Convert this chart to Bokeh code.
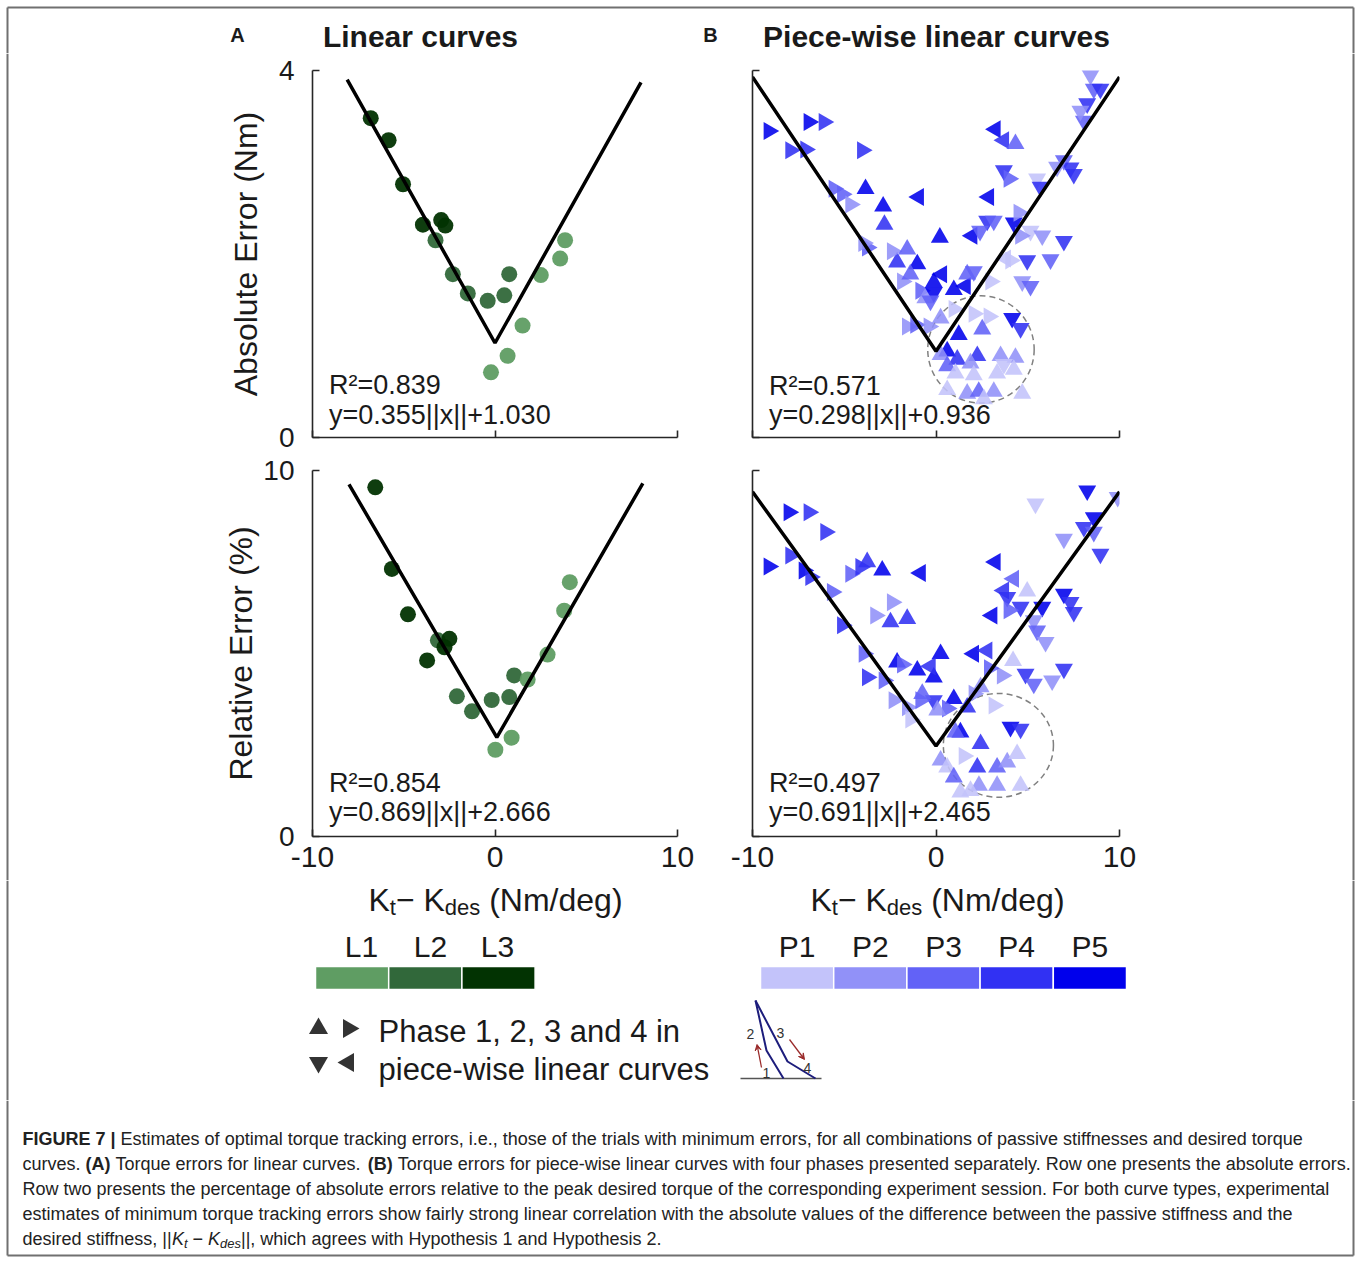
import math
from bokeh.plotting import figure
from bokeh.models import Range1d, FixedTicker, ColumnDataSource, Arrow, VeeHead
from bokeh.layouts import column, row
from bokeh.embed import file_html
from bokeh.resources import INLINE
from bokeh.core.properties import value

FONT = "Liberation Sans"
INK = "#1a1a1a"
FRAME = "#707070"

# ---------------- data ----------------
x_ticks = [-10, 0, 10]
x_tick_labels = ["-10", "0", "10"]
abs_ticks = [0, 4]
abs_tick_labels = ["0", "4"]
rel_ticks = [0, 10]
rel_tick_labels = ["0", "10"]

l_labels = ["L1", "L2", "L3"]
l_colors = ["#5f9d63", "#31683a", "#023302"]
p_labels = ["P1", "P2", "P3", "P4", "P5"]
p_colors = ["#c3c3fa", "#9191f8", "#6262f7", "#3131f3", "#0000ec"]

# Panel A, absolute error (Nm)
a_abs_x = [-6.81, -5.83, -5.04, -3.95, -2.95, -2.72, -3.26, -2.31, -1.49, -0.40, 0.51, 0.78, 1.51, 0.69, -0.22, 2.51, 3.57, 3.84]
a_abs_y = [3.48, 3.24, 2.76, 2.32, 2.37, 2.31, 2.15, 1.78, 1.57, 1.49, 1.55, 1.78, 1.22, 0.89, 0.71, 1.77, 1.95, 2.15]
a_abs_level = [3, 3, 3, 3, 3, 3, 2, 2, 2, 2, 2, 2, 1, 1, 1, 1, 1, 1]
a_abs_fit_x = [-8.1, 0.0, 8.0]
a_abs_fit_y = [3.90, 1.03, 3.87]
a_abs_stats = ["R\u00b2=0.839", "y=0.355||x||+1.030"]

# Panel A, relative error (%)
a_rel_x = [-6.56, -5.65, -4.77, -3.13, -2.50, -2.77, -3.72, -2.09, -1.26, -0.18, 0.78, 1.05, 1.79, 2.88, 3.79, 4.10, 0.91, 0.02]
a_rel_y = [9.54, 7.31, 6.07, 5.36, 5.40, 5.17, 4.81, 3.83, 3.42, 3.73, 3.81, 4.40, 4.29, 4.97, 6.17, 6.95, 2.70, 2.37]
a_rel_level = [3, 3, 3, 2, 3, 3, 3, 2, 2, 2, 2, 2, 1, 1, 1, 1, 1, 1]
a_rel_fit_x = [-8.0, 0.1, 8.1]
a_rel_fit_y = [9.62, 2.71, 9.65]
a_rel_stats = ["R\u00b2=0.854", "y=0.869||x||+2.666"]

# Panel B, absolute error (Nm); phase 1..4, level P1..P5
b_abs_x = [-9.11, -6.93, -6.11, -7.93, -7.11, -4.02, -5.57, -5.11, -3.84, -4.66,
           -2.88, -2.81, -0.94, 0.21, 1.97, 3.24, 3.70, 4.33, 3.70, 3.97,
           2.88, 5.51, 5.70, 6.97, 7.33, 7.51, 6.60, 8.42, 8.60, 8.96,
           8.24, 8.06, 7.87, 2.79, 3.15, 4.24, 4.51, 5.15, 5.79, 6.97,
           6.24, 4.97, 4.06, 4.70, 5.15, 2.40, 4.60, -3.75, -3.95, -2.12,
           -2.39, -1.57, -1.02, -1.84, -1.40, -0.84, -0.58, -0.12, -0.12, -0.30,
           0.32, 0.97, 1.61, 1.70, 2.06, 2.97, 3.80, -1.57, -1.12, -0.39,
           0.25, 0.97, 2.06, 2.88, 4.15, 4.61, 1.24, 2.52, 0.61, 1.16,
           0.25, 0.61, 2.25, 1.88, 3.52, 4.33, 3.70, 4.24, 1.06, 2.06,
           3.33, 1.70, 2.33, 3.15, 4.70, 2.61, 0.61]
b_abs_y = [3.34, 3.44, 3.44, 3.13, 3.14, 3.13, 2.71, 2.65, 2.71, 2.54,
           2.52, 2.32, 2.62, 2.18, 2.20, 3.36, 3.24, 3.20, 2.91, 2.82,
           2.62, 2.82, 2.73, 3.02, 2.94, 2.87, 2.95, 3.95, 3.80, 3.80,
           3.64, 3.45, 3.56, 2.36, 2.36, 2.34, 2.45, 2.25, 2.20, 2.14,
           1.94, 1.93, 1.93, 1.70, 1.65, 2.25, 2.20, 2.07, 2.12, 1.91,
           2.03, 2.05, 1.89, 1.70, 1.78, 1.60, 1.52, 1.69, 1.58, 1.49,
           1.78, 1.61, 1.65, 1.78, 1.81, 1.70, 1.95, 1.21, 1.23, 1.21,
           1.30, 1.40, 1.35, 1.32, 1.30, 1.19, 1.12, 1.18, 0.94, 0.85,
           0.90, 0.78, 0.89, 0.81, 0.89, 0.87, 0.80, 0.74, 0.70, 0.68,
           0.70, 0.48, 0.50, 0.50, 0.48, 0.42, 0.52]
b_abs_phase = [2, 2, 2, 2, 2, 2, 2, 2, 1, 2,
               1, 1, 4, 1, 4, 4, 4, 1, 3, 2,
               4, 3, 3, 3, 3, 3, 3, 3, 3, 3,
               3, 3, 3, 3, 3, 3, 2, 3, 3, 3,
               3, 3, 2, 3, 3, 3, 2, 2, 2, 1,
               2, 1, 1, 2, 1, 2, 1, 1, 3, 3,
               4, 1, 4, 1, 3, 2, 4, 2, 2, 2,
               1, 2, 2, 2, 3, 3, 1, 1, 1, 1,
               1, 1, 1, 1, 1, 1, 3, 1, 1, 1,
               1, 1, 1, 1, 1, 1, 1]
b_abs_level = [5, 5, 4, 4, 4, 4, 3, 3, 5, 2,
               5, 4, 5, 5, 5, 5, 4, 3, 4, 3,
               5, 1, 4, 3, 4, 4, 2, 2, 3, 4,
               4, 3, 2, 4, 3, 5, 2, 1, 2, 4,
               3, 4, 1, 2, 3, 3, 2, 3, 2, 4,
               2, 3, 5, 2, 3, 3, 2, 5, 5, 3,
               5, 5, 5, 3, 3, 1, 1, 2, 3, 2,
               2, 1, 1, 1, 5, 4, 5, 3, 5, 4,
               2, 3, 4, 2, 2, 2, 1, 1, 1, 1,
               1, 2, 3, 2, 1, 1, 1]
b_abs_fit_x = [-10.0, 0.0, 10.0]
b_abs_fit_y = [3.93, 0.94, 3.93]
b_abs_stats = ["R\u00b2=0.571", "y=0.298||x||+0.936"]
b_abs_ring_x = [2.45]
b_abs_ring_y = [0.96]
b_abs_ring_w = [5.8]
b_abs_ring_h = [1.17]

# Panel B, relative error (%)
b_rel_x = [-8.02, -6.93, -6.02, -9.11, -7.93, -7.20, -6.84, -5.66, -4.66, -4.11,
           -3.75, -2.93, -0.84, -2.39, -3.30, -2.48, -1.57, -5.11, -3.93, -3.75,
           -2.84, -2.12, -1.84, -1.02, 0.25, -0.12, -0.30, 2.06, 2.79, 3.06,
           3.24, 4.24, 3.70, 3.88, 4.97, 4.61, 3.97, 5.79, 6.97, 7.33,
           7.51, 5.33, 5.51, 5.97, 4.88, 5.33, 6.33, 6.97, 8.24, 5.42,
           9.90, 8.60, 8.06, 8.60, 8.96, 6.97, 2.43, 4.06, 4.61, 1.33,
           -0.12, -0.75, -1.57, -1.39, 0.97, 1.70, 0.61, 3.15, 2.06, 2.43,
           1.06, 1.52, 2.25, 3.33, 3.88, 4.42, 0.25, 0.61, 0.97, 1.33,
           2.34, 3.33, 4.61, 1.88, -0.84, -2.30, 0.07, 3.60, 4.20, 2.90]
b_rel_y = [8.86, 8.86, 8.32, 7.38, 7.68, 7.27, 7.09, 6.68, 7.18, 7.36,
           7.50, 7.27, 7.20, 6.40, 6.04, 5.86, 5.95, 5.77, 4.99, 4.35,
           4.26, 4.76, 4.70, 4.54, 4.99, 4.35, 4.65, 4.99, 5.08, 6.04,
           7.50, 7.04, 6.72, 6.54, 6.70, 6.27, 6.18, 6.27, 6.63, 6.40,
           6.13, 5.90, 5.62, 5.31, 4.44, 4.17, 4.26, 4.58, 9.45, 9.09,
           9.27, 8.72, 8.45, 8.32, 7.72, 8.13, 2.53, 2.99, 2.94, 2.85,
           3.72, 3.90, 3.53, 3.20, 3.76, 3.53, 3.50, 3.58, 3.90, 4.08,
           2.85, 2.20, 1.89, 1.89, 2.03, 2.26, 2.08, 1.89, 1.62, 1.21,
           1.39, 1.39, 1.39, 1.25, 3.72, 3.72, 3.45, 4.40, 4.80, 4.60]
b_rel_phase = [2, 2, 2, 2, 2, 2, 2, 2, 2, 2,
               1, 1, 4, 2, 2, 1, 1, 2, 2, 2,
               2, 1, 2, 1, 1, 1, 4, 4, 4, 4,
               4, 4, 4, 3, 1, 3, 2, 3, 3, 3,
               3, 3, 3, 3, 3, 3, 3, 3, 3, 3,
               3, 3, 3, 3, 3, 3, 1, 3, 3, 1,
               3, 1, 2, 2, 1, 1, 2, 2, 2, 1,
               1, 2, 1, 1, 1, 1, 1, 1, 1, 1,
               1, 1, 1, 1, 2, 2, 1, 2, 1, 2]
b_rel_level = [5, 4, 4, 5, 4, 5, 4, 3, 3, 4,
               4, 5, 5, 2, 2, 4, 4, 4, 3, 4,
               3, 5, 3, 5, 5, 5, 4, 5, 4, 5,
               5, 3, 4, 4, 1, 4, 3, 5, 5, 4,
               4, 2, 3, 2, 4, 3, 2, 4, 5, 1,
               2, 5, 4, 3, 4, 2, 4, 5, 4, 5,
               4, 3, 2, 1, 5, 4, 3, 1, 2, 2,
               3, 1, 4, 3, 2, 1, 2, 1, 3, 1,
               2, 2, 1, 1, 3, 2, 2, 2, 1, 3]
b_rel_fit_x = [-10.0, 0.0, 10.0]
b_rel_fit_y = [9.42, 2.47, 9.42]
b_rel_stats = ["R\u00b2=0.497", "y=0.691||x||+2.465"]
b_rel_ring_x = [3.4]
b_rel_ring_y = [2.49]
b_rel_ring_w = [6.0]
b_rel_ring_h = [2.84]

# text content
title_a = "Linear curves"
title_b = "Piece-wise linear curves"
ylabel_abs = "Absolute Error (Nm)"
ylabel_rel = "Relative Error (%)"
xlabel_parts = [("K", "main"), ("t", "sub"), ("\u2212 K", "main"), ("des", "sub"), (" (Nm/deg)", "main")]
phase_text = ["Phase 1, 2, 3 and 4 in", "piece-wise linear curves"]
cap_lines = [
    [("FIGURE 7 |", "bold"), (" Estimates of optimal torque tracking errors, i.e., those of the trials with minimum errors, for all combinations of passive stiffnesses and desired torque", "normal")],
    [("curves. ", "normal"), ("(A)", "bold"), (" Torque errors for linear curves. ", "normal"), ("(B)", "bold"),
     (" Torque errors for piece-wise linear curves with four phases presented separately. Row one presents the absolute errors.", "normal")],
    [("Row two presents the percentage of absolute errors relative to the peak desired torque of the corresponding experiment session. For both curve types, experimental", "normal")],
    [("estimates of minimum torque tracking errors show fairly strong linear correlation with the absolute values of the difference between the passive stiffness and the", "normal")],
    [("desired stiffness, ||", "normal"), ("K", "italic"), ("t", "italic-sub"), (" \u2212 ", "normal"), ("K", "italic"),
     ("des", "italic-sub"), ("||, which agrees with Hypothesis 1 and Hypothesis 2.", "normal")],
]

# ---------------- text metrics (Arial / Liberation Sans advance widths) ----------------
W = {' ': 278, '!': 278, '"': 355, '#': 556, '$': 556, '%': 889, '&': 667, "'": 191, '(': 333, ')': 333,
     '*': 389, '+': 584, ',': 278, '-': 333, '.': 278, '/': 278, ':': 278, ';': 278, '<': 584, '=': 584,
     '>': 584, '?': 556, '@': 1015, '[': 278, ']': 278, '|': 260, '\u2212': 584, '\u00b2': 333,
     'A': 667, 'B': 667, 'C': 722, 'D': 722, 'E': 667, 'F': 611, 'G': 778, 'H': 722, 'I': 278, 'J': 500,
     'K': 667, 'L': 556, 'M': 833, 'N': 722, 'O': 778, 'P': 667, 'Q': 778, 'R': 722, 'S': 667, 'T': 611,
     'U': 722, 'V': 667, 'W': 944, 'X': 667, 'Y': 667, 'Z': 611,
     'a': 556, 'b': 556, 'c': 500, 'd': 556, 'e': 556, 'f': 278, 'g': 556, 'h': 556, 'i': 222, 'j': 222,
     'k': 500, 'l': 222, 'm': 833, 'n': 556, 'o': 556, 'p': 556, 'q': 556, 'r': 333, 's': 500, 't': 278,
     'u': 556, 'v': 500, 'w': 722, 'x': 500, 'y': 500, 'z': 500}
WB = {'A': 722, 'B': 722, 'R': 722, 'U': 722, '|': 280}


def text_w(s, size, bold=False):
    tot = 0
    for ch in s:
        if bold and ch in WB:
            tot += WB[ch]
        else:
            tot += W.get(ch, 556)
    return tot * size / 1000.0


def lead_w(s, size):
    n = len(s) - len(s.lstrip(" "))
    return n * W[' '] * size / 1000.0


# ---------------- helpers ----------------
def canvas(w, h, x0, x1, y_top, y_bot):
    p = figure(width=w, height=h, x_range=Range1d(x0, x1), y_range=Range1d(y_bot, y_top),
               output_backend="svg", toolbar_location=None, min_border=0,
               x_axis_type=None, y_axis_type=None, outline_line_color=None,
               background_fill_color="white", border_fill_color="white")
    p.grid.visible = False
    return p


def put_text(p, x, y, s, size, style="normal", align="left", color=INK):
    p.text(x=[x], y=[y], text=[s], text_font=value(FONT), text_font_size=f"{size}px",
           text_font_style=style, text_align=align, text_baseline="middle", text_color=color)


def vline(p, x, y0, y1):
    p.line(x=[x, x], y=[y0, y1], line_color=FRAME, line_width=2)


PHASE_MARKER = {1: ("triangle", 0.0), 2: ("triangle", -math.pi / 2),
                3: ("inverted_triangle", 0.0), 4: ("triangle", math.pi / 2)}


def panel(w, h, ml, mr, mt, mb, ymax, yticks, ytick_labels, ylabel, ylabel_standoff, show_x, show_y):
    p = figure(width=w, height=h, x_range=Range1d(-10, 10), y_range=Range1d(0, ymax),
               output_backend="svg", toolbar_location=None,
               min_border_left=ml, min_border_right=mr, min_border_top=mt, min_border_bottom=mb,
               background_fill_color="white", border_fill_color="white", outline_line_color=None)
    p.grid.visible = False
    xa = p.xaxis[0]
    ya = p.yaxis[0]
    xa.ticker = FixedTicker(ticks=x_ticks)
    ya.ticker = FixedTicker(ticks=yticks)
    for ax in (xa, ya):
        ax.major_tick_in = 7
        ax.major_tick_out = 0
        ax.minor_tick_line_color = None
        ax.axis_line_color = "#262626"
        ax.axis_line_width = 1.6
        ax.major_tick_line_color = "#262626"
        ax.major_tick_line_width = 1.6
        ax.major_label_text_font = FONT
        ax.major_label_text_color = INK
    if show_x:
        xa.major_label_overrides = {t: s for t, s in zip(x_ticks, x_tick_labels)}
        xa.major_label_text_font_size = "30px"
        xa.major_label_standoff = 10
    else:
        xa.major_label_overrides = {t: "" for t in x_ticks}
        xa.major_label_text_font_size = "1px"
        xa.major_label_standoff = 0
    if show_y:
        ya.major_label_overrides = {t: s for t, s in zip(yticks, ytick_labels)}
        ya.major_label_text_font_size = "28px"
        ya.major_label_standoff = 18
        ya.axis_label = ylabel
        ya.axis_label_text_font = FONT
        ya.axis_label_text_font_size = "32px"
        ya.axis_label_text_font_style = "normal"
        ya.axis_label_text_color = INK
        ya.axis_label_standoff = ylabel_standoff
    else:
        ya.major_label_overrides = {t: "" for t in yticks}
        ya.major_label_text_font_size = "1px"
        ya.major_label_standoff = 0
    return p


def green_points(p, xs, ys, levels):
    p.scatter(x=xs, y=ys, size=16, marker="circle", fill_color=[l_colors[l - 1] for l in levels],
              fill_alpha=0.95, line_color=None)


def blue_points(p, xs, ys, phases, levels):
    src = ColumnDataSource(dict(
        x=xs, y=ys,
        marker=[PHASE_MARKER[ph][0] for ph in phases],
        angle=[PHASE_MARKER[ph][1] for ph in phases],
        color=[p_colors[l - 1] for l in levels]))
    p.scatter(x="x", y="y", marker="marker", angle="angle", size=18, fill_color="color",
              fill_alpha=0.88, line_color=None, source=src)


def fit_and_stats(p, fx, fy, stats, y1, y2):
    p.line(x=fx, y=fy, line_color="black", line_width=3.5)
    p.text(x=[-9.1, -9.1], y=[y1, y2], text=stats, text_font=value(FONT), text_font_size="27px",
           text_baseline="middle", text_align="left", text_color=INK)


# ---------------- panels (page rows: 53-453, 453-880) ----------------
pa1 = panel(480, 400, 91, 23, 17, 16, 4, abs_ticks, abs_tick_labels, ylabel_abs, 12, False, True)
green_points(pa1, a_abs_x, a_abs_y, a_abs_level)
fit_and_stats(pa1, a_abs_fit_x, a_abs_fit_y, a_abs_stats, 0.57, 0.25)

pa2 = panel(480, 427, 91, 23, 17, 44, 10, rel_ticks, rel_tick_labels, ylabel_rel, 1, True, True)
green_points(pa2, a_rel_x, a_rel_y, a_rel_level)
fit_and_stats(pa2, a_rel_fit_x, a_rel_fit_y, a_rel_stats, 1.45, 0.66)

pb1 = panel(450, 400, 52, 31, 17, 16, 4, abs_ticks, abs_tick_labels, None, 0, False, False)
pb1.ellipse(x=b_abs_ring_x, y=b_abs_ring_y, width=b_abs_ring_w, height=b_abs_ring_h,
            fill_color=None, line_color="#808080", line_dash="6 4", line_width=1.5)
blue_points(pb1, b_abs_x, b_abs_y, b_abs_phase, b_abs_level)
fit_and_stats(pb1, b_abs_fit_x, b_abs_fit_y, b_abs_stats, 0.56, 0.24)

pb2 = panel(450, 427, 52, 31, 17, 44, 10, rel_ticks, rel_tick_labels, None, 0, True, False)
pb2.ellipse(x=b_rel_ring_x, y=b_rel_ring_y, width=b_rel_ring_w, height=b_rel_ring_h,
            fill_color=None, line_color="#808080", line_dash="6 4", line_width=1.5)
blue_points(pb2, b_rel_x, b_rel_y, b_rel_phase, b_rel_level)
fit_and_stats(pb2, b_rel_fit_x, b_rel_fit_y, b_rel_stats, 1.45, 0.66)

# ---------------- top strip (titles) ----------------
top = canvas(1360, 53, 0, 1360, 0, 53)
top.line(x=[7, 1353], y=[7, 7], line_color=FRAME, line_width=2)
vline(top, 7, 7, 53)
vline(top, 1353, 7, 53)
put_text(top, 237, 34, "A", 20, "bold", "center")
put_text(top, 420, 35.5, title_a, 30, "bold", "center")
put_text(top, 710, 34, "B", 20, "bold", "center")
put_text(top, 936, 35.5, title_b, 30, "bold", "center")

# ---------------- side strips ----------------
left = canvas(220, 827, 0, 220, 53, 880)
vline(left, 7, 53, 880)
right = canvas(210, 827, 1150, 1360, 53, 880)
vline(right, 1353, 53, 880)

# ---------------- legend strip ----------------
leg = canvas(1360, 220, 0, 1360, 880, 1100)
vline(leg, 7, 880, 1100)
vline(leg, 1353, 880, 1100)


def xlabel(p, cx):
    sizes = {"main": 32, "sub": 22}
    ys = {"main": 899, "sub": 907}
    total = sum(text_w(s, sizes[k]) for s, k in xlabel_parts)
    x = cx - total / 2
    for s, k in xlabel_parts:
        sz = sizes[k]
        put_text(p, x + lead_w(s, sz), ys[k], s.strip(), sz)
        x += text_w(s, sz)


xlabel(leg, 495)
xlabel(leg, 937)

seg_w = 73.2
for i, (lab, col) in enumerate(zip(l_labels, l_colors)):
    x0 = 315 + i * seg_w
    leg.quad(left=[x0], right=[x0 + seg_w], top=[966], bottom=[989], fill_color=col,
             line_color="white", line_width=1.5)
for cx, lab in zip([361, 430, 497], l_labels):
    put_text(leg, cx, 946, lab, 30, "normal", "center")
for i, (lab, col) in enumerate(zip(p_labels, p_colors)):
    x0 = 760 + i * seg_w
    leg.quad(left=[x0], right=[x0 + seg_w], top=[966], bottom=[989], fill_color=col,
             line_color="white", line_width=1.5)
    put_text(leg, x0 + seg_w / 2, 946, lab, 30, "normal", "center")

# phase marker key
key_src = ColumnDataSource(dict(
    x=[318, 348, 318, 348], y=[1028, 1028, 1062, 1062],
    marker=[PHASE_MARKER[ph][0] for ph in [1, 2, 3, 4]],
    angle=[PHASE_MARKER[ph][1] for ph in [1, 2, 3, 4]]))
leg.scatter(x="x", y="y", marker="marker", angle="angle", size=19, fill_color="#333333",
            line_color=None, source=key_src)
put_text(leg, 378, 1031, phase_text[0], 31)
put_text(leg, 378, 1069, phase_text[1], 31)

# inset diagram of the piece-wise curve
NAVY = "#1d1d7c"
RED = "#9a2a2a"
leg.line(x=[740, 821], y=[1078, 1078], line_color="#555555", line_width=1.5)
leg.line(x=[755, 766, 783], y=[1000, 1050, 1078], line_color=NAVY, line_width=2)
leg.line(x=[755, 787, 815], y=[1000, 1061, 1078], line_color=NAVY, line_width=2)
leg.add_layout(Arrow(end=VeeHead(size=6, line_color=RED, fill_color=RED, line_width=1),
                     x_start=761, y_start=1067, x_end=756.5, y_end=1044, line_color=RED, line_width=1.3))
leg.add_layout(Arrow(end=VeeHead(size=6, line_color=RED, fill_color=RED, line_width=1),
                     x_start=789, y_start=1039, x_end=804, y_end=1059, line_color=RED, line_width=1.3))
for tx, ty, s in [(750, 1033, "2"), (780, 1032, "3"), (766, 1072, "1"), (807, 1067, "4")]:
    put_text(leg, tx, ty, s, 14, "normal", "center", "#333333")

# ---------------- caption strip ----------------
cap = canvas(1360, 161, 0, 1360, 1100, 1261)
vline(cap, 7, 1100, 1255)
vline(cap, 1353, 1100, 1255)
cap.line(x=[7, 1353], y=[1255, 1255], line_color=FRAME, line_width=2)

cap_targets = [1307 - 22, 1340 - 22, 1334 - 22, 1297 - 22]
ratios = []
for segs, tgt in zip(cap_lines[:4], cap_targets):
    wtot = sum(text_w(s, 1.0, st == "bold") for s, st in segs)
    ratios.append(tgt / wtot)
fs = sum(ratios) / len(ratios)
cap_y = [1138, 1163, 1188, 1213, 1238]
for segs, yc in zip(cap_lines, cap_y):
    x = 22.0
    for s, st in segs:
        if st == "italic-sub":
            size = fs * 0.72
            put_text(cap, x + lead_w(s, size), yc + fs * 0.3, s.strip(), round(size, 2), "italic", "left", "#222222")
            x += text_w(s, size)
        else:
            put_text(cap, x + lead_w(s, fs), yc, s.strip(), round(fs, 2), st, "left", "#222222")
            x += text_w(s, fs, st == "bold")

# ---------------- layout ----------------
mid = row(left, column(pa1, pa2), column(pb1, pb2), right)
root = column(top, mid, leg, cap)

open("out.html", "w").write(file_html(root, INLINE))
